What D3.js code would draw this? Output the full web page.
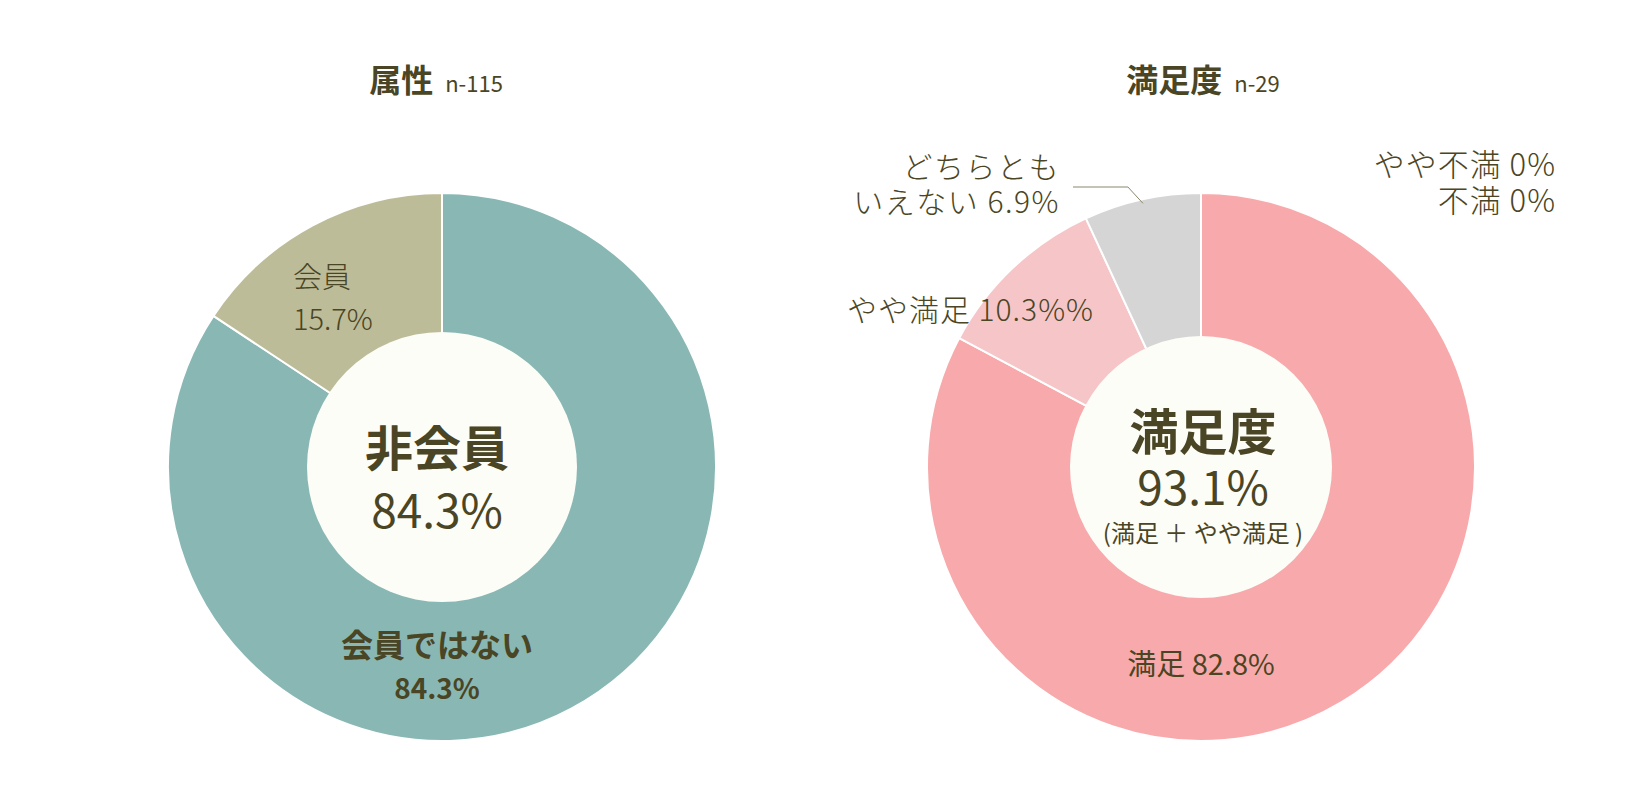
<!DOCTYPE html>
<html>
<head>
<meta charset="utf-8">
<script src="https://cdn.jsdelivr.net/npm/d3@7"></script>
<style>
  body { margin: 0; background: #fff; }
  text { font-family: "Noto Sans CJK JP", "Noto Sans", sans-serif; fill: #4a4524; }
</style>
</head>
<body>
<script>
// left chart: 属性
const attrCats = ["非会員", "会員"]
const attrValues = [84.3, 15.7]
const attrColors = ["#89b8b4", "#bdbc98"]
const attrN = 115

// right chart: 満足度
const satCats = ["満足", "やや満足", "どちらともいえない", "やや不満", "不満"]
const satValues = [82.8, 10.3, 6.9, 0, 0]
const satColors = ["#f8a9ab", "#f6c5c7", "#d5d5d5", "#c9c9c9", "#bbbbbb"]
const satN = 29
const satTotal = 93.1

const m = { width: 1640, height: 794 }
const outerR = 274

const svg = d3.select("body").append("svg")
    .attr("width", m.width)
    .attr("height", m.height)

const pie = d3.pie().sort(null).value(d => d)
const arc = d3.arc().innerRadius(0).outerRadius(outerR)

function donut(cx, cy, values, colors, holeR) {
    const g = svg.append("g").attr("transform", `translate(${cx},${cy})`)
    const arcs = pie(values)
    g.selectAll("path")
        .data(arcs.filter(d => d.value > 0))
        .enter()
        .append("path")
        .attr("d", arc)
        .attr("fill", (d) => colors[d.index])
        .attr("stroke", "#fff")
        .attr("stroke-width", 2)
    g.append("circle")
        .attr("r", holeR)
        .attr("fill", "#fdfdf8")
    return { g: g, arcs: arcs }
}

// one text element, one tspan per line: [txt, dy, size, weight]
function label(g, x, y, lines, anchor, spacing) {
    const t = g.append("text")
        .attr("x", x)
        .attr("y", y)
        .attr("text-anchor", anchor || "middle")
        .attr("letter-spacing", spacing || 0)
    lines.forEach(function (l, i) {
        t.append("tspan")
            .attr("x", x)
            .attr("dy", i === 0 ? 0 : l[1])
            .attr("font-size", l[2])
            .attr("font-weight", l[3] || 400)
            .text(l[0])
    })
    return t
}

// titles
function title(x, main, n) {
    const t = svg.append("text")
        .attr("x", x)
        .attr("y", 92)
        .attr("text-anchor", "middle")
    t.append("tspan").attr("font-size", 32).attr("font-weight", 700).text(main)
    t.append("tspan").attr("font-size", 22).attr("font-weight", 400).attr("dx", 12).text("n-" + n)
}
title(436, "属性", attrN)
title(1203, "満足度", satN)

// left donut
const L = donut(442, 467, attrValues, attrColors, 135)
label(L.g, -149, -179, [
    [attrCats[1], 0, 29, 300],
    [attrValues[1] + "%", 42, 29, 300]
], "start")
label(L.g, -5, -1, [
    [attrCats[0], 0, 48, 700],
    [attrValues[0] + "%", 62, 46, 400]
])
label(L.g, -5, 190, [
    ["会員ではない", 0, 32, 700],
    [attrValues[0] + "%", 42, 28, 700]
])

// right donut
const R = donut(1201, 467, satValues, satColors, 131)
label(R.g, 2, -17, [
    ["満足度", 0, 49, 700],
    [satTotal + "%", 55, 46, 400],
    ["(満足 ＋ やや満足 )", 37, 24, 400]
])
label(R.g, 0, 208, [[satCats[0] + " " + satValues[0] + "%", 0, 29, 400]])
label(R.g, -107, -146, [[satCats[1] + " " + satValues[1] + "%%", 0, 30, 300]], "end", 1)
label(R.g, -141, -289, [
    ["どちらとも", 0, 30, 300],
    ["いえない " + satValues[2] + "%", 35, 30, 300]
], "end", 1.5)
label(R.g, 355, -291, [
    [satCats[3] + " " + satValues[3] + "%", 0, 31, 300],
    [satCats[4] + " " + satValues[4] + "%", 36, 31, 300]
], "end", 1)

// leader line for どちらともいえない
const g3 = R.arcs[2]
const mid = (g3.startAngle + g3.endAngle) / 2
const tip = [Math.sin(mid) * (outerR - 4), -Math.cos(mid) * (outerR - 4)]
R.g.append("polyline")
    .attr("points", [[-128, -280], [tip[0] - 15, -280], tip].map(p => p.join(",")).join(" "))
    .attr("fill", "none")
    .attr("stroke", "#8a876a")
    .attr("stroke-width", 1)
</script>
</body>
</html>
